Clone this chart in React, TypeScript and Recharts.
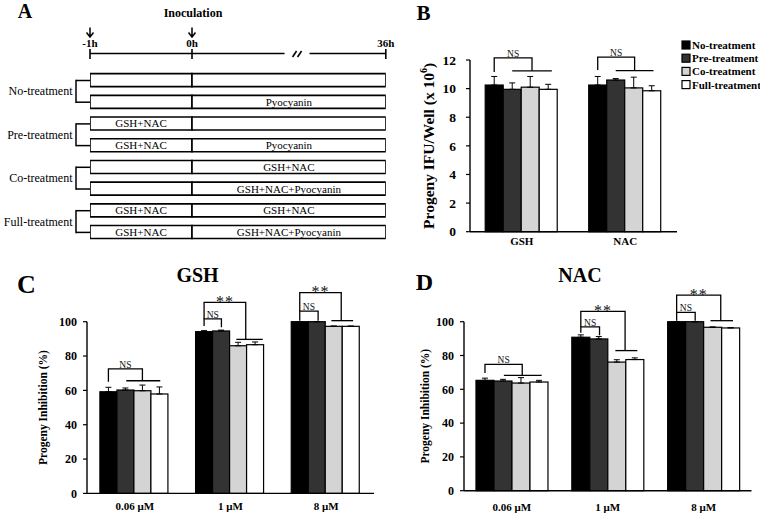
import React from 'react';
import { BarChart, Bar, XAxis, YAxis, ErrorBar, LabelList } from 'recharts';

const SERIF = "'Liberation Serif', 'Times New Roman', Times, serif";

// ---- series shared by B, C, D
const SERIES = ['No-treatment', 'Pre-treatment', 'Co-treatment', 'Full-treatment'];
const COLORS = ['#000000', '#333333', '#d4d4d4', '#ffffff'];

// ---- panel A: treatment schedule
const GROUPS = ['No-treatment', 'Pre-treatment', 'Co-treatment', 'Full-treatment'];
const PRE_LABELS = ['', '', 'GSH+NAC', 'GSH+NAC', '', '', 'GSH+NAC', 'GSH+NAC'];
const POST_LABELS = ['', 'Pyocyanin', '', 'Pyocyanin', 'GSH+NAC', 'GSH+NAC+Pyocyanin', 'GSH+NAC', 'GSH+NAC+Pyocyanin'];
const TIME_LABELS = ['-1h', '0h', '36h'];
const TIME_POS = [0, 1, 2.9]; // 0h -> 36h is drawn compressed (axis break)
const TIME_ARROW = [true, true, false];
const TIME_NOTE = ['', 'Inoculation', ''];
const BREAK_POS = 2.03;
const PRE_SPAN = 1;
const POST_SPAN = 1.9;

// ---- panel B: progeny IFU/well (x10^6)
const B_CATS = ['GSH', 'NAC'];
const B_MEAN = [
  [10.25, 10.25],
  [9.95, 10.6],
  [10.1, 10.05],
  [9.95, 9.85],
];
const B_ERR = [
  [0.6, 0.6],
  [0.45, 0.1],
  [0.75, 0.75],
  [0.35, 0.35],
];
const B_TICKS = [0, 2, 4, 6, 8, 10, 12];

// ---- panels C (GSH) and D (NAC): progeny inhibition (%)
const CONC_CATS = ['0.06 μM', '1 μM', '8 μM'];
const PCT_TICKS = [0, 20, 40, 60, 80, 100];
const C_MEAN = [
  [59.2, 94.2, 100],
  [60.2, 94.6, 100],
  [59.8, 86.0, 97.3],
  [57.9, 86.6, 97.3],
];
const C_ERR = [
  [2.6, 0.6, 0],
  [1.2, 0.5, 0],
  [3.3, 2.0, 0.2],
  [4.1, 1.6, 0.2],
];
const D_MEAN = [
  [65.3, 90.8, 100],
  [64.9, 89.8, 100],
  [63.7, 76.1, 96.7],
  [64.3, 77.6, 96.3],
];
const D_ERR = [
  [1.3, 1.4, 0],
  [1.0, 1.4, 0],
  [3.2, 1.4, 0.2],
  [1.0, 1.0, 0.2],
];

// significance brackets: l/r/line in bar-width units from the first bar's centre, heights in data units
type Bracket = { cat: number; l: number; r: number; top: number; lb: number; rb: number; text: string; line?: [number, number] };

const B_BRACKETS: Bracket[] = [
  { cat: 0, l: 0, r: 2.1, top: 12.15, lb: 11.17, rb: 11.24, text: 'NS', line: [1.0, 3.2] },
  { cat: 1, l: 0, r: 2.05, top: 12.2, lb: 11.3, rb: 11.26, text: 'NS', line: [1.0, 3.1] },
];
const C_BRACKETS: Bracket[] = [
  { cat: 0, l: 0, r: 2.0, top: 72.5, lb: 65, rb: 65.6, text: 'NS', line: [1.05, 3.05] },
  { cat: 1, l: 0, r: 2.45, top: 111.3, lb: 101.6, rb: 89.7, text: '**', line: [1.9, 3.45] },
  { cat: 1, l: 0, r: 1.02, top: 101.6, lb: 97.5, rb: 96.7, text: 'NS' },
  { cat: 2, l: 0, r: 2.44, top: 116.9, lb: 106.2, rb: 100.6, text: '**', line: [1.86, 3.14] },
  { cat: 2, l: 0, r: 1.08, top: 106.2, lb: 100.5, rb: 100.5, text: 'NS' },
];
const D_BRACKETS: Bracket[] = [
  { cat: 0, l: 0, r: 2.07, top: 74.7, lb: 69.6, rb: 68.2, text: 'NS', line: [1.05, 3.15] },
  { cat: 1, l: 0, r: 2.46, top: 106.1, lb: 96.9, rb: 82.9, text: '**', line: [1.92, 3.14] },
  { cat: 1, l: 0, r: 1.04, top: 96.9, lb: 93.5, rb: 92, text: 'NS' },
  { cat: 2, l: 0, r: 2.45, top: 115.7, lb: 105.5, rb: 100.6, text: '**', line: [1.88, 3.13] },
  { cat: 2, l: 0, r: 1.03, top: 105.5, lb: 100.5, rb: 100.5, text: 'NS' },
];

const A_ROW = 21.7;

function TimeTick(props: any) {
  const { x, y, payload } = props;
  const v = payload.value;
  if (v === BREAK_POS) {
    return (
      <g>
        <rect x={x - 12.5} y={y - 5} width={25} height={10} fill="#fff" />
        <line x1={x - 4.5} y1={y + 3.5} x2={x - 0.5} y2={y - 2.5} stroke="#000" strokeWidth={1.6} />
        <line x1={x + 0.5} y1={y + 3.5} x2={x + 4.5} y2={y - 2.5} stroke="#000" strokeWidth={1.6} />
      </g>
    );
  }
  const i = TIME_POS.indexOf(v);
  return (
    <g>
      <line x1={x} y1={y - 4.5} x2={x} y2={y + 5.5} stroke="#000" strokeWidth={1.6} />
      <text x={x} y={y - 7} textAnchor="middle" fontSize={11} fontWeight={700} fontFamily={SERIF} fill="#000">
        {TIME_LABELS[i]}
      </text>
      {TIME_ARROW[i] && (
        <path
          d={`M${x} ${y - 26} V${y - 16.5} M${x - 3.5} ${y - 21} L${x} ${y - 16.5} L${x + 3.5} ${y - 21}`}
          stroke="#000"
          strokeWidth={1.5}
          fill="none"
        />
      )}
      {TIME_NOTE[i] && (
        <text x={x + 1} y={y - 37} textAnchor="middle" fontSize={12} fontWeight={700} fontFamily={SERIF} fill="#000">
          {TIME_NOTE[i]}
        </text>
      )}
    </g>
  );
}

function GroupTick(props: any) {
  const { x, y, index } = props;
  const gx = x - 14;
  const first = index % 2 === 0;
  return (
    <g>
      <line x1={gx} y1={y} x2={x} y2={y} stroke="#000" strokeWidth={1.5} />
      {first && <line x1={gx} y1={y - 0.75} x2={gx} y2={y + A_ROW + 0.75} stroke="#000" strokeWidth={1.5} />}
      {first && (
        <text x={gx - 3.5} y={y + A_ROW / 2} textAnchor="end" dominantBaseline="central" fontSize={12} fontFamily={SERIF} fill="#000">
          {GROUPS[index / 2]}
        </text>
      )}
    </g>
  );
}

function ScheduleChart() {
  const rows = PRE_LABELS.map((pre, i) => ({ id: i, pre: PRE_SPAN, post: POST_SPAN, preLabel: pre, postLabel: POST_LABELS[i] }));
  const labelStyle = { fill: '#000', fontSize: 11, fontFamily: SERIF };
  return (
    <BarChart layout="vertical" width={400} height={250} data={rows} margin={{ top: 0, right: 14.2, bottom: 6.75, left: 0 }} barSize={13}>
      <XAxis
        type="number"
        orientation="top"
        domain={[0, 2.9]}
        ticks={[0, 1, BREAK_POS, 2.9]}
        allowDataOverflow
        height={53.5}
        tickSize={0}
        tickMargin={0}
        tickLine={false}
        interval={0}
        axisLine={{ stroke: '#000', strokeWidth: 1.6 }}
        tick={<TimeTick />}
      />
      <YAxis
        type="category"
        dataKey="id"
        width={90}
        padding={{ top: 16.15, bottom: 0 }}
        axisLine={false}
        tickLine={false}
        tickSize={0}
        tickMargin={0}
        interval={0}
        tick={<GroupTick />}
      />
      <Bar dataKey="pre" stackId="t" fill="#fff" stroke="#000" strokeWidth={1.6} isAnimationActive={false}>
        <LabelList dataKey="preLabel" position="center" {...labelStyle} />
      </Bar>
      <Bar dataKey="post" stackId="t" fill="#fff" stroke="#000" strokeWidth={1.6} isAnimationActive={false}>
        <LabelList dataKey="postLabel" position="center" {...labelStyle} />
      </Bar>
    </BarChart>
  );
}

function makeShape(s: number, brackets: Bracket[]) {
  return (props: any) => {
    const { x, y, width, height, index, payload } = props;
    const v = payload['s' + s];
    const base = y + height;
    const k = v ? height / v : 0;
    const py = (val: number) => base - val * k;
    const cx = (u: number) => x + width / 2 + u * width;
    const own = s === 0 ? brackets.filter((b) => b.cat === index) : [];
    return (
      <g>
        <rect x={x} y={y} width={width} height={height} fill={COLORS[s]} stroke="#000" strokeWidth={1.2} />
        {own.map((b, j) => {
          const star = b.text === '**';
          return (
            <g key={j}>
              <path
                d={`M${cx(b.l)} ${py(b.lb)} V${py(b.top)} H${cx(b.r)} V${py(b.rb)}`}
                stroke="#000"
                strokeWidth={1.3}
                fill="none"
              />
              {b.line && <line x1={cx(b.line[0])} y1={py(b.rb)} x2={cx(b.line[1])} y2={py(b.rb)} stroke="#000" strokeWidth={1.3} />}
              <text
                x={(cx(b.l) + cx(b.r)) / 2}
                y={star ? py(b.top) + 4.5 : py(b.top) - 1}
                textAnchor="middle"
                fontSize={star ? 16 : 9.5}
                letterSpacing={star ? 1 : 0}
                fontFamily={SERIF}
                fill="#111"
              >
                {b.text}
              </text>
            </g>
          );
        })}
      </g>
    );
  };
}

type PanelProps = {
  cats: string[];
  mean: number[][];
  err: number[][];
  brackets: Bracket[];
  domain: [number, number];
  ticks: number[];
  w: number;
  h: number;
  margin: { top: number; right: number; bottom: number; left: number };
  yW: number;
  yTickMargin: number;
  yFont: number;
  catH: number;
  xTickMargin: number;
  gap: string;
  title: React.ReactNode;
  titleX: number;
  titleSize: number;
};

function PanelTitle(props: any) {
  const { viewBox, cx, size, children, fallback } = props;
  const vb = viewBox && viewBox.height ? viewBox : fallback;
  const tx = vb.x + cx;
  const ty = vb.y + vb.height / 2;
  return (
    <text
      x={tx}
      y={ty}
      transform={`rotate(-90 ${tx} ${ty})`}
      textAnchor="middle"
      dominantBaseline="central"
      fontSize={size}
      fontWeight={700}
      fontFamily={SERIF}
      fill="#000"
    >
      {children}
    </text>
  );
}

function GroupPanel(p: PanelProps) {
  const rows = p.cats.map((name, i) => {
    const r: Record<string, unknown> = { name };
    p.mean.forEach((m, s) => {
      r['s' + s] = m[i];
      r['e' + s] = [0, p.err[s][i]];
    });
    return r;
  });
  const edges = p.cats.map((_, i) => i).concat(p.cats.length);
  const plotH = p.h - p.margin.top - p.margin.bottom - 5 - p.catH;
  const fallback = { x: p.margin.left, y: p.margin.top, width: p.yW, height: plotH };
  const axisStyle = { stroke: '#000', strokeWidth: 1.4 };
  return (
    <BarChart width={p.w} height={p.h} data={rows} margin={p.margin} barCategoryGap={p.gap} barGap={0}>
      <XAxis
        xAxisId={0}
        type="number"
        domain={[0, p.cats.length]}
        ticks={edges}
        allowDataOverflow
        tick={false}
        tickSize={4}
        height={5}
        axisLine={axisStyle}
        tickLine={{ stroke: '#000', strokeWidth: 1.2 }}
      />
      <XAxis
        xAxisId="cat"
        dataKey="name"
        axisLine={false}
        tickLine={false}
        tickSize={0}
        tickMargin={p.xTickMargin}
        height={p.catH}
        interval={0}
        tick={{ fill: '#000', fontSize: 11, fontWeight: 700, fontFamily: SERIF }}
      />
      <YAxis
        type="number"
        domain={p.domain}
        ticks={p.ticks}
        width={p.yW}
        tickSize={4}
        tickMargin={p.yTickMargin}
        interval={0}
        axisLine={axisStyle}
        tickLine={{ stroke: '#000', strokeWidth: 1.2 }}
        tick={{ fill: '#000', fontSize: p.yFont, fontWeight: 700, fontFamily: SERIF }}
        label={
          <PanelTitle cx={p.titleX} size={p.titleSize} fallback={fallback}>
            {p.title}
          </PanelTitle>
        }
      />
      {SERIES.map((name, s) => (
        <Bar key={name} xAxisId="cat" dataKey={'s' + s} name={name} fill={COLORS[s]} isAnimationActive={false} shape={makeShape(s, p.brackets)}>
          <ErrorBar dataKey={'e' + s} width={3} stroke="#000" strokeWidth={1} direction="y" />
        </Bar>
      ))}
    </BarChart>
  );
}

export default function App() {
  const legendTop = 45;
  const legendStep = 13.2;
  return (
    <div style={{ position: 'absolute', left: 0, top: 0, width: 760, height: 515, background: '#fff', overflow: 'hidden', fontFamily: SERIF }}>
      <div style={{ position: 'absolute', left: 0, top: 0 }}>
        <ScheduleChart />
      </div>
      <div style={{ position: 'absolute', left: 400, top: 0 }}>
        <GroupPanel
          cats={B_CATS}
          mean={B_MEAN}
          err={B_ERR}
          brackets={B_BRACKETS}
          domain={[0, 12]}
          ticks={B_TICKS}
          w={360}
          h={250}
          margin={{ top: 60, right: 83, bottom: 0, left: 0 }}
          yW={70}
          yTickMargin={10}
          yFont={13.5}
          catH={13.3}
          xTickMargin={0}
          gap="14.7%"
          title={
            <>
              <tspan>Progeny IFU/Well (x 10</tspan>
              <tspan dy={-5} fontSize={10}>6</tspan>
              <tspan dy={5}>)</tspan>
            </>
          }
          titleX={28}
          titleSize={15.5}
        />
      </div>
      <div style={{ position: 'absolute', left: 0, top: 250 }}>
        <GroupPanel
          cats={CONC_CATS}
          mean={C_MEAN}
          err={C_ERR}
          brackets={C_BRACKETS}
          domain={[0, 100]}
          ticks={PCT_TICKS}
          w={380}
          h={265}
          margin={{ top: 71.7, right: 6, bottom: 0, left: 0 }}
          yW={87}
          yTickMargin={6}
          yFont={12}
          catH={16.6}
          xTickMargin={4}
          gap="13.5%"
          title="Progeny Inhibition (%)"
          titleX={43}
          titleSize={11.5}
        />
      </div>
      <div style={{ position: 'absolute', left: 380, top: 250 }}>
        <GroupPanel
          cats={CONC_CATS}
          mean={D_MEAN}
          err={D_ERR}
          brackets={D_BRACKETS}
          domain={[0, 100]}
          ticks={PCT_TICKS}
          w={380}
          h={265}
          margin={{ top: 71.7, right: 8.5, bottom: 0, left: 0 }}
          yW={84}
          yTickMargin={6}
          yFont={12}
          catH={19.3}
          xTickMargin={7}
          gap="12.5%"
          title="Progeny Inhibition (%)"
          titleX={45}
          titleSize={11.5}
        />
      </div>
      <svg width={760} height={515} style={{ position: 'absolute', left: 0, top: 0, pointerEvents: 'none' }} fontFamily={SERIF} fontWeight={700} fill="#000">
        <text x={25} y={17.5} fontSize={20} textAnchor="middle">A</text>
        <text x={423.5} y={19.5} fontSize={21} textAnchor="middle">B</text>
        <text x={26.5} y={293} fontSize={26} textAnchor="middle">C</text>
        <text x={424.5} y={290} fontSize={24} textAnchor="middle">D</text>
        <text x={197.5} y={282} fontSize={20} textAnchor="middle">GSH</text>
        <text x={580} y={282} fontSize={20} textAnchor="middle">NAC</text>
        {SERIES.map((name, s) => (
          <g key={name}>
            <rect x={682} y={legendTop + s * legendStep - 4} width={8} height={8} fill={COLORS[s]} stroke="#000" strokeWidth={1.2} />
            <text x={692} y={legendTop + s * legendStep} dominantBaseline="central" fontSize={11} fontWeight={700}>
              {name}
            </text>
          </g>
        ))}
      </svg>
    </div>
  );
}
